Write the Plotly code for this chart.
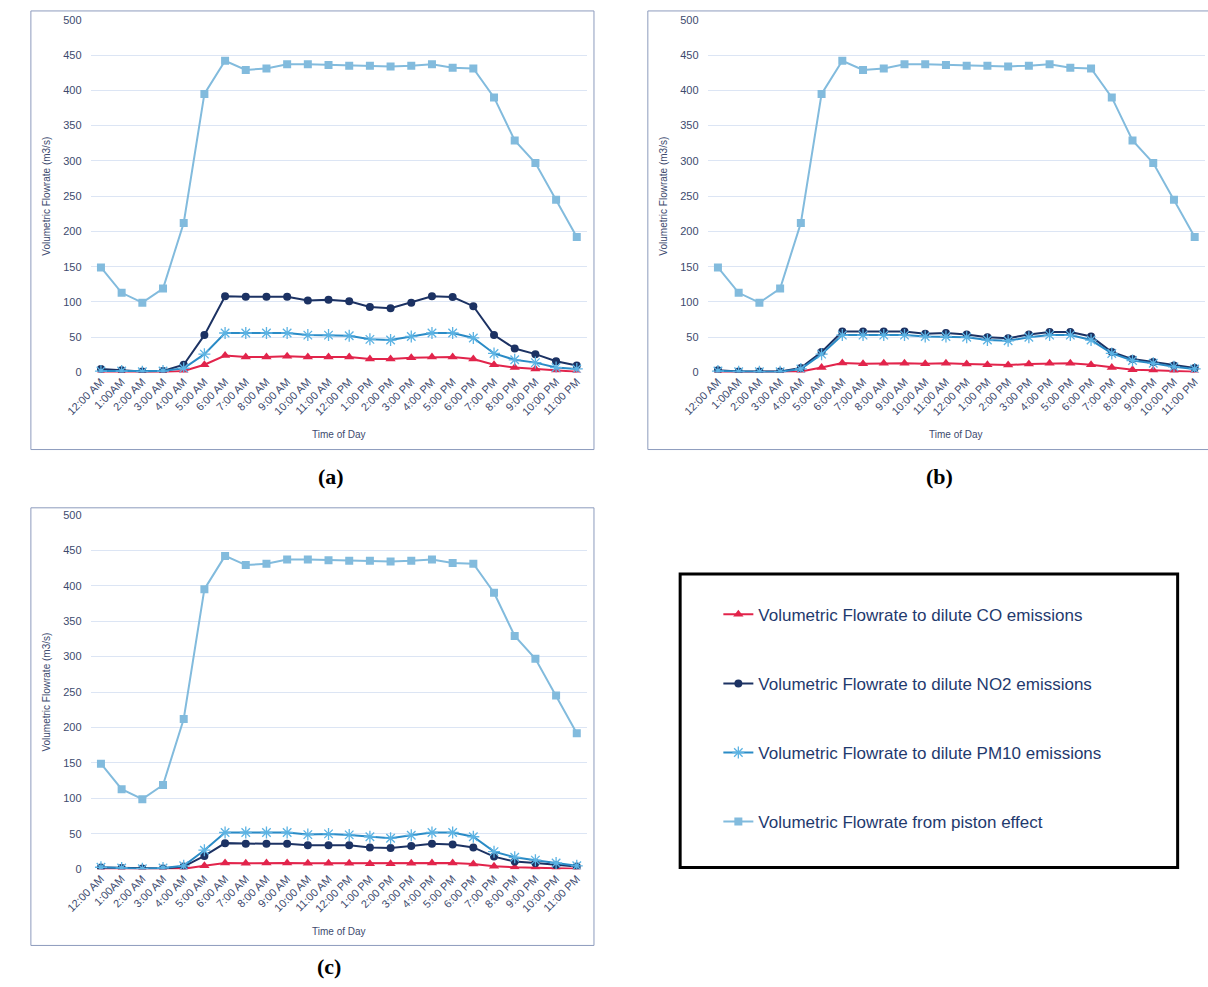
import plotly.graph_objects as go

W, H = 1208, 987

hours = ["12:00 AM", "1:00AM", "2:00 AM", "3:00 AM", "4:00 AM", "5:00 AM", "6:00 AM",
         "7:00 AM", "8:00 AM", "9:00 AM", "10:00 AM", "11:00 AM", "12:00 PM", "1:00 PM",
         "2:00 PM", "3:00 PM", "4:00 PM", "5:00 PM", "6:00 PM", "7:00 PM", "8:00 PM",
         "9:00 PM", "10:00 PM", "11:00 PM"]

piston = [149, 113, 99, 119, 212, 395, 442, 429, 431, 437, 437, 436,
          435, 435, 434, 435, 437, 432, 431, 390, 329, 297, 245, 192]

# panel (a)
co_a = [0.5, 0.5, 0.5, 0.5, 2, 11, 24, 22, 22, 23, 22, 22,
        22, 19, 19, 21, 22, 22, 19, 11, 7, 5, 3, 1]
no2_a = [5, 3, 1.5, 2, 11, 53, 108, 107.5, 107.5, 107.5, 102, 103,
         101, 93, 91, 99, 108, 107, 94, 53, 34, 26, 16, 10]
pm10_a = [2, 2, 1, 2, 6, 26, 56, 56, 56, 56, 53, 53,
          52, 47, 46, 51, 56, 56, 49, 27, 18, 14, 7, 5]

# panel (b)
co_b = [0.5, 0.5, 0.5, 0.5, 1.5, 7, 13.5, 12.5, 13, 13, 12.5, 13,
        12, 11, 10.5, 12, 13, 13, 11, 7, 4, 3, 2, 1]
no2_b = [3.3, 1.5, 1.5, 1.5, 6.5, 29, 58, 58, 58, 58, 55, 56,
         54, 50, 48.6, 54, 57.5, 57.5, 51, 29, 19, 15, 10, 6.5]
pm10_b = [2, 1, 1, 1, 5, 26, 53, 53, 53, 53, 51, 51,
          50, 46, 45, 50, 53, 53, 46, 27, 17, 13, 8, 5]

# panel (c)
co_c = [0.3, 0.3, 0.3, 0.3, 1, 5, 9, 8.5, 9, 9, 8.5, 8.5,
        8.5, 8, 8, 8.5, 9, 9, 7.5, 4.5, 3, 2.5, 1.5, 0.8]
no2_c = [2.8, 2, 1.4, 1.4, 4, 19, 37, 36, 36, 36, 34, 34,
         34, 31, 30, 33, 36, 35, 31, 18, 11, 9, 6, 4]
pm10_c = [3, 2, 1, 2, 5, 27, 52, 52, 52, 52, 49, 50,
          48.6, 46, 44, 48, 52, 52, 46, 25, 17, 13, 9, 5]

series_names = ["Volumetric Flowrate to dilute CO emissions",
                "Volumetric Flowrate to dilute NO2 emissions",
                "Volumetric Flowrate to dilute PM10 emissions",
                "Volumetric Flowrate from piston effect"]
y_ticks = [0, 50, 100, 150, 200, 250, 300, 350, 400, 450, 500]
panel_labels = ["(a)", "(b)", "(c)"]
x_title = "Time of Day"
y_title = "Volumetric Flowrate (m3/s)"

C_CO = "#e2244b"
C_NO2 = "#1c3263"
C_PM = "#2a8bc6"
C_PM_MK = "#5cb3e3"
C_PIST = "#82bbdd"
TXT = "#3d4a6e"
GRID = "#dce5f4"

def px(x):
    return x / W

def py(y):
    return 1 - y / H

fig = go.Figure()

panels = [
    ("x", "y", co_a, no2_a, pm10_a, True),
    ("x2", "y2", co_b, no2_b, pm10_b, False),
    ("x3", "y3", co_c, no2_c, pm10_c, False),
]

for xa, ya, co, no2, pm10, show in panels:
    fig.add_trace(go.Scatter(x=hours, y=co, xaxis=xa, yaxis=ya, name=series_names[0],
                             legendgroup="co", showlegend=show, mode="lines+markers",
                             line=dict(color=C_CO, width=2),
                             marker=dict(symbol="triangle-up", size=9, color=C_CO)))
    fig.add_trace(go.Scatter(x=hours, y=no2, xaxis=xa, yaxis=ya, name=series_names[1],
                             legendgroup="no2", showlegend=show, mode="lines+markers",
                             line=dict(color=C_NO2, width=2),
                             marker=dict(symbol="circle", size=8, color=C_NO2)))
    fig.add_trace(go.Scatter(x=hours, y=pm10, xaxis=xa, yaxis=ya, name=series_names[2],
                             legendgroup="pm10", showlegend=show, mode="lines+markers",
                             line=dict(color=C_PM, width=2),
                             marker=dict(symbol="asterisk-open", size=10, color=C_PM_MK,
                                         line=dict(color=C_PM_MK, width=1.3))))
    fig.add_trace(go.Scatter(x=hours, y=piston, xaxis=xa, yaxis=ya, name=series_names[3],
                             legendgroup="piston", showlegend=show, mode="lines+markers",
                             line=dict(color=C_PIST, width=2),
                             marker=dict(symbol="square", size=8, color=C_PIST)))

# plot-area geometry in pixels: (left, right, top(500), bottom(0))
areas = [(67, 574, 14, 371), (697, 1205, 14, 371), (67, 574, 515, 874)]
boxes = [(6, 581, 5, 449), (636, 1216, 5, 449), (6, 581, 508, 951)]
label_pos = [(312, 476), (934, 476), (310, 972)]

layout = dict(
    width=W, height=H, margin=dict(l=0, r=0, t=0, b=0),
    paper_bgcolor="white", plot_bgcolor="white",
    font=dict(family="Liberation Sans, Arial, sans-serif", color=TXT, size=11),
    showlegend=True,
    legend=dict(x=px(708), y=py(598), xanchor="left", yanchor="top",
                bgcolor="rgba(0,0,0,0)", borderwidth=0,
                font=dict(size=17, color="#1f3a6e", family="Liberation Sans, Arial, sans-serif"),
                tracegroupgap=44, itemwidth=30),
)

shapes = []
annotations = []
for i, ((l, r, t, b), (bl, br, bt, bb), (lx, ly)) in enumerate(zip(areas, boxes, label_pos)):
    sfx = "" if i == 0 else str(i + 1)
    layout["xaxis" + sfx] = dict(
        domain=[px(l), px(r)], anchor="y" + sfx, type="category",
        range=[-0.5, len(hours) - 0.5], tickmode="array", tickvals=hours, ticktext=hours,
        tickangle=-45, showgrid=False, showline=False, zeroline=False, ticks="",
        tickfont=dict(size=11, color=TXT))
    layout["yaxis" + sfx] = dict(
        domain=[py(b), py(t)], anchor="x" + sfx, range=[0, 500],
        tickmode="array", tickvals=y_ticks, showgrid=True, gridcolor=GRID, gridwidth=1,
        zeroline=False, showline=False, ticks="", ticklabelstandoff=8,
        tickfont=dict(size=11, color=TXT))
    shapes.append(dict(type="rect", xref="paper", yref="paper",
                       x0=px(bl), x1=px(br), y0=py(bb), y1=py(bt),
                       line=dict(color="#8d9bbd", width=1)))
    annotations.append(dict(text=x_title, xref="paper", yref="paper",
                            x=px((l + r) / 2), y=py(b + 63), showarrow=False,
                            xanchor="center", yanchor="middle",
                            font=dict(size=10, color=TXT)))
    annotations.append(dict(text=y_title, xref="paper", yref="paper",
                            x=px(bl + 16), y=py((t + b) / 2), showarrow=False,
                            textangle=-90, xanchor="center", yanchor="middle",
                            font=dict(size=10, color=TXT)))
    annotations.append(dict(text="<b>" + panel_labels[i] + "</b>", xref="paper", yref="paper",
                            x=px(lx), y=py(ly), showarrow=False,
                            xanchor="center", yanchor="middle",
                            font=dict(size=22, color="black",
                                      family="Liberation Serif, Times New Roman, serif")))

# legend frame
shapes.append(dict(type="rect", xref="paper", yref="paper",
                   x0=px(669), x1=px(1177), y0=py(872), y1=py(575),
                   line=dict(color="black", width=3)))

layout["shapes"] = shapes
layout["annotations"] = annotations
fig.update_layout(**layout)

fig.write_html("out.html", config={"displayModeBar": False},
               post_script="document.body.style.margin='0';document.body.style.overflow='hidden';")
